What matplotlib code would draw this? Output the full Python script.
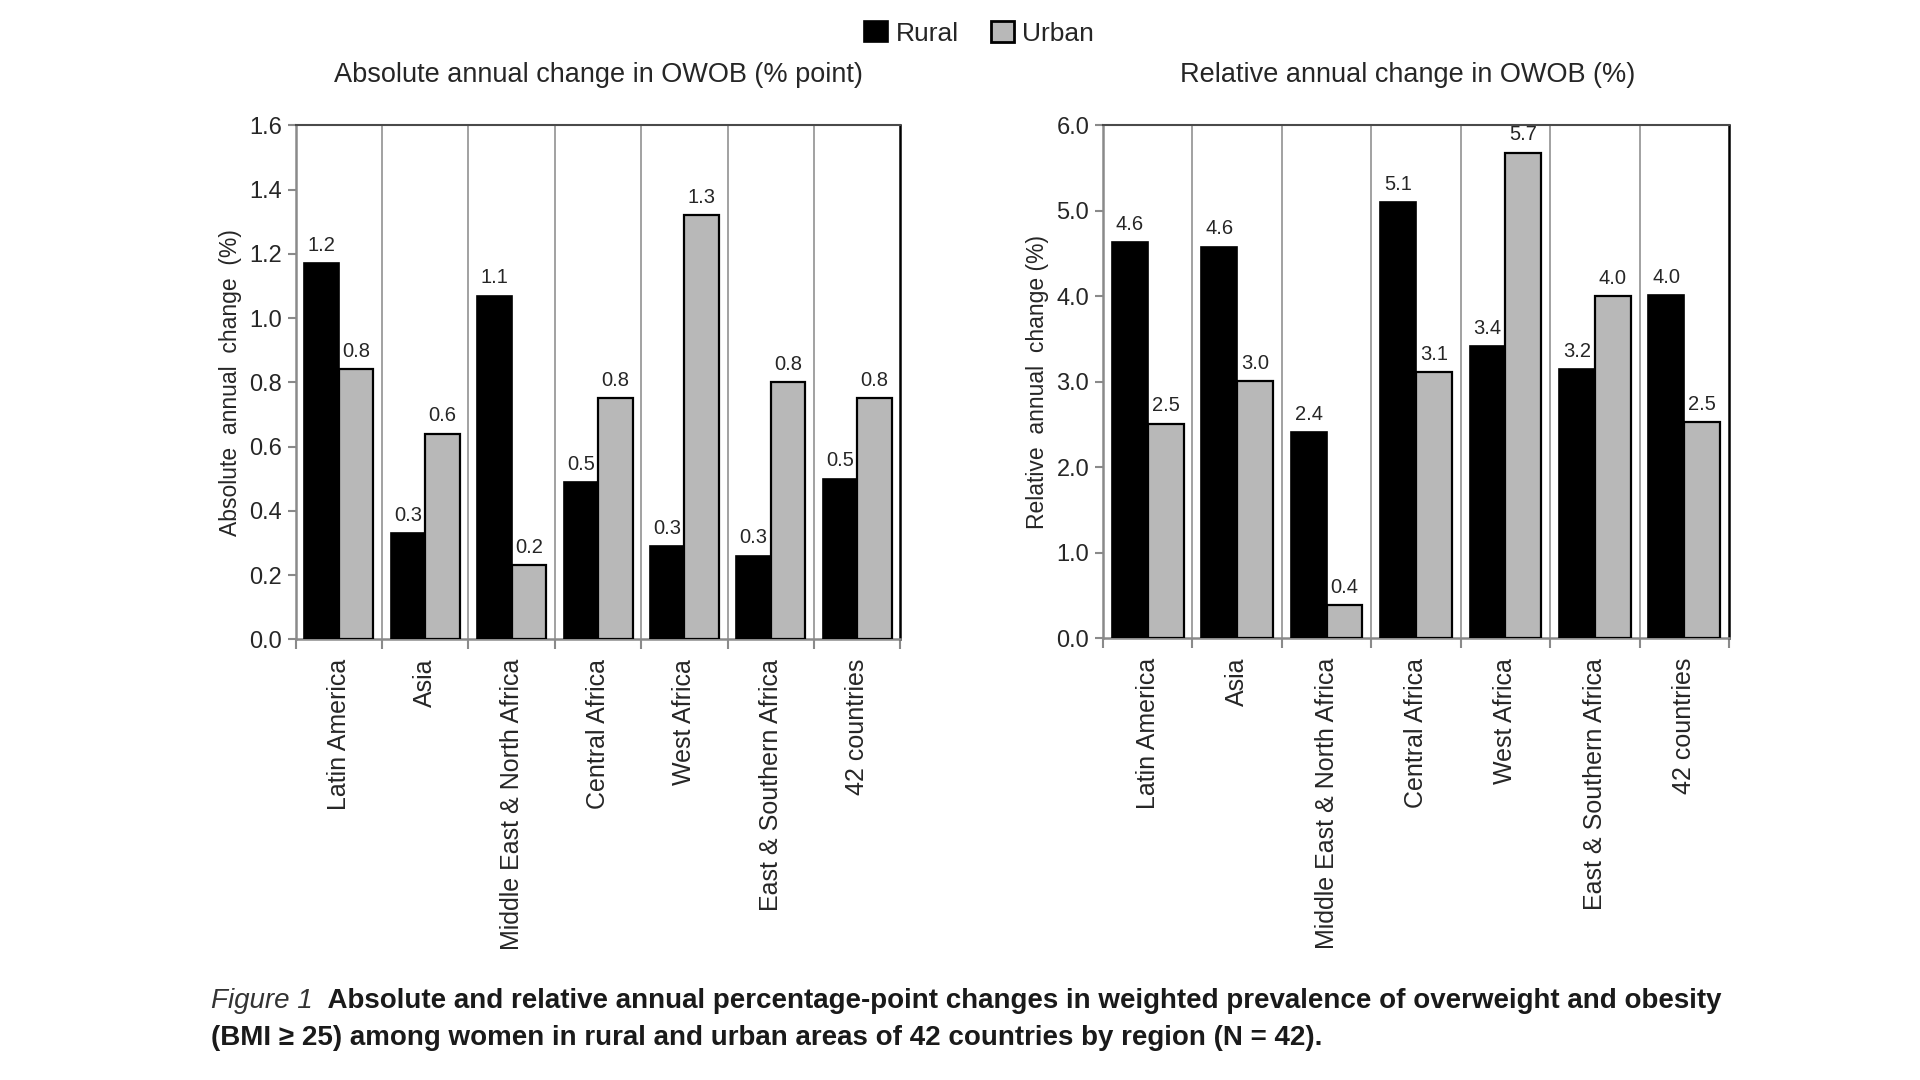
import matplotlib

matplotlib.use("Agg")
import matplotlib.pyplot as plt
import numpy as np
from matplotlib.patches import Patch

plt.rcParams["font.family"] = ["Liberation Sans", "DejaVu Sans"]

REGIONS = ["Latin America", "Asia", "Middle East & North Africa", "Central Africa",
           "West Africa", "East & Southern Africa", "42 countries"]

ABS_RURAL = [1.17, 0.33, 1.07, 0.49, 0.29, 0.26, 0.50]
ABS_URBAN = [0.84, 0.64, 0.23, 0.75, 1.32, 0.80, 0.75]
ABS_RURAL_LAB = ["1.2", "0.3", "1.1", "0.5", "0.3", "0.3", "0.5"]
ABS_URBAN_LAB = ["0.8", "0.6", "0.2", "0.8", "1.3", "0.8", "0.8"]

REL_RURAL = [4.63, 4.58, 2.41, 5.10, 3.42, 3.15, 4.01]
REL_URBAN = [2.51, 3.01, 0.39, 3.11, 5.68, 4.00, 2.53]
REL_RURAL_LAB = ["4.6", "4.6", "2.4", "5.1", "3.4", "3.2", "4.0"]
REL_URBAN_LAB = ["2.5", "3.0", "0.4", "3.1", "5.7", "4.0", "2.5"]

RURAL_C, URBAN_C = "#000000", "#b8b8b8"
SPINE_GREY, GRID_GREY, INK = "#8a8a8a", "#9a9a9a", "#262626"


def panel(ax, rural, urban, rlab, ulab, ymax, ystep, title, ylab, title_x=0.5):
    x = np.arange(len(REGIONS))
    w = 0.4
    rb = ax.bar(x - w / 2, rural, w, color=RURAL_C, edgecolor="black", lw=1.2, zorder=3)
    ub = ax.bar(x + w / 2, urban, w, color=URBAN_C, edgecolor="black", lw=1.6, zorder=3)
    ax.bar_label(rb, labels=rlab, padding=6, fontsize=14.5, color=INK)
    ax.bar_label(ub, labels=ulab, padding=6, fontsize=14.5, color=INK)

    ax.set_xlim(-0.5, len(REGIONS) - 0.5)
    ax.set_ylim(0, ymax)
    ax.set_yticks(np.arange(0, ymax + ystep / 2, ystep))
    ax.yaxis.set_major_formatter(matplotlib.ticker.FormatStrFormatter("%.1f"))

    # category separators as x ticks / vertical lines
    bounds = np.arange(-0.5, len(REGIONS), 1.0)
    ax.set_xticks(bounds)
    ax.set_xticklabels([])
    ax.set_xticks(x, minor=True)
    ax.set_xticklabels(REGIONS, minor=True, rotation=90, fontsize=18, color=INK)
    ax.tick_params(axis="x", which="minor", length=0, pad=14)
    ax.tick_params(axis="x", which="major", length=7, color=SPINE_GREY, width=1.5)
    ax.tick_params(axis="y", length=6, color=SPINE_GREY, width=1.5, labelsize=17,
                   labelcolor=INK, pad=4)
    for b in bounds[1:-1]:
        ax.axvline(b, color=GRID_GREY, lw=1.3, zorder=1)

    for s in ("left", "bottom"):
        ax.spines[s].set_color(SPINE_GREY)
        ax.spines[s].set_linewidth(1.8)
    ax.spines["top"].set_color("#4a4a4a")
    ax.spines["top"].set_linewidth(1.5)
    ax.spines["right"].set_color("black")
    ax.spines["right"].set_linewidth(1.8)

    ax.set_title(title, fontsize=19.5, color=INK, pad=31, x=title_x)
    ax.set_ylabel(ylab, fontsize=16.5, color=INK, labelpad=5)
    return rb, ub


fig = plt.figure(figsize=(19.2, 10.8), dpi=100)
ax1 = fig.add_axes([0.154, 0.408, 0.315, 0.476])
ax2 = fig.add_axes([0.5745, 0.409, 0.326, 0.475])

panel(ax1, ABS_RURAL, ABS_URBAN, ABS_RURAL_LAB, ABS_URBAN_LAB, 1.6, 0.2,
      "Absolute annual change in OWOB (% point)", "Absolute  annual  change  (%)")
panel(ax2, REL_RURAL, REL_URBAN, REL_RURAL_LAB, REL_URBAN_LAB, 6.0, 1.0,
      "Relative annual change in OWOB (%)", "Relative  annual  change (%)", title_x=0.486)

handles = [Patch(facecolor=RURAL_C, edgecolor="black", lw=1.2),
           Patch(facecolor=URBAN_C, edgecolor="black", lw=2.0)]
fig.legend(handles, ["Rural", "Urban"], loc="upper center", bbox_to_anchor=(0.51, 1.003),
           ncol=2, frameon=False, fontsize=19, handlelength=0.9, handleheight=0.9,
           handletextpad=0.3, columnspacing=1.2, labelcolor=INK)

# caption
t1 = fig.text(0.110, 0.067, "Figure 1", fontsize=20, style="italic", color="#333333",
              va="baseline")
ax1.annotate("  Absolute and relative annual percentage-point changes in weighted "
             "prevalence of overweight and obesity",
             xy=(1, 0), xycoords=t1, va="bottom", ha="left", fontsize=20,
             fontweight="bold", color="#1a1a1a", annotation_clip=False)
fig.text(0.110, 0.032, "(BMI \u2265 25) among women in rural and urban areas of 42 "
         "countries by region (N = 42).", fontsize=20, fontweight="bold",
         color="#1a1a1a", va="baseline")

fig.savefig("out.png", dpi=100, facecolor="white")
